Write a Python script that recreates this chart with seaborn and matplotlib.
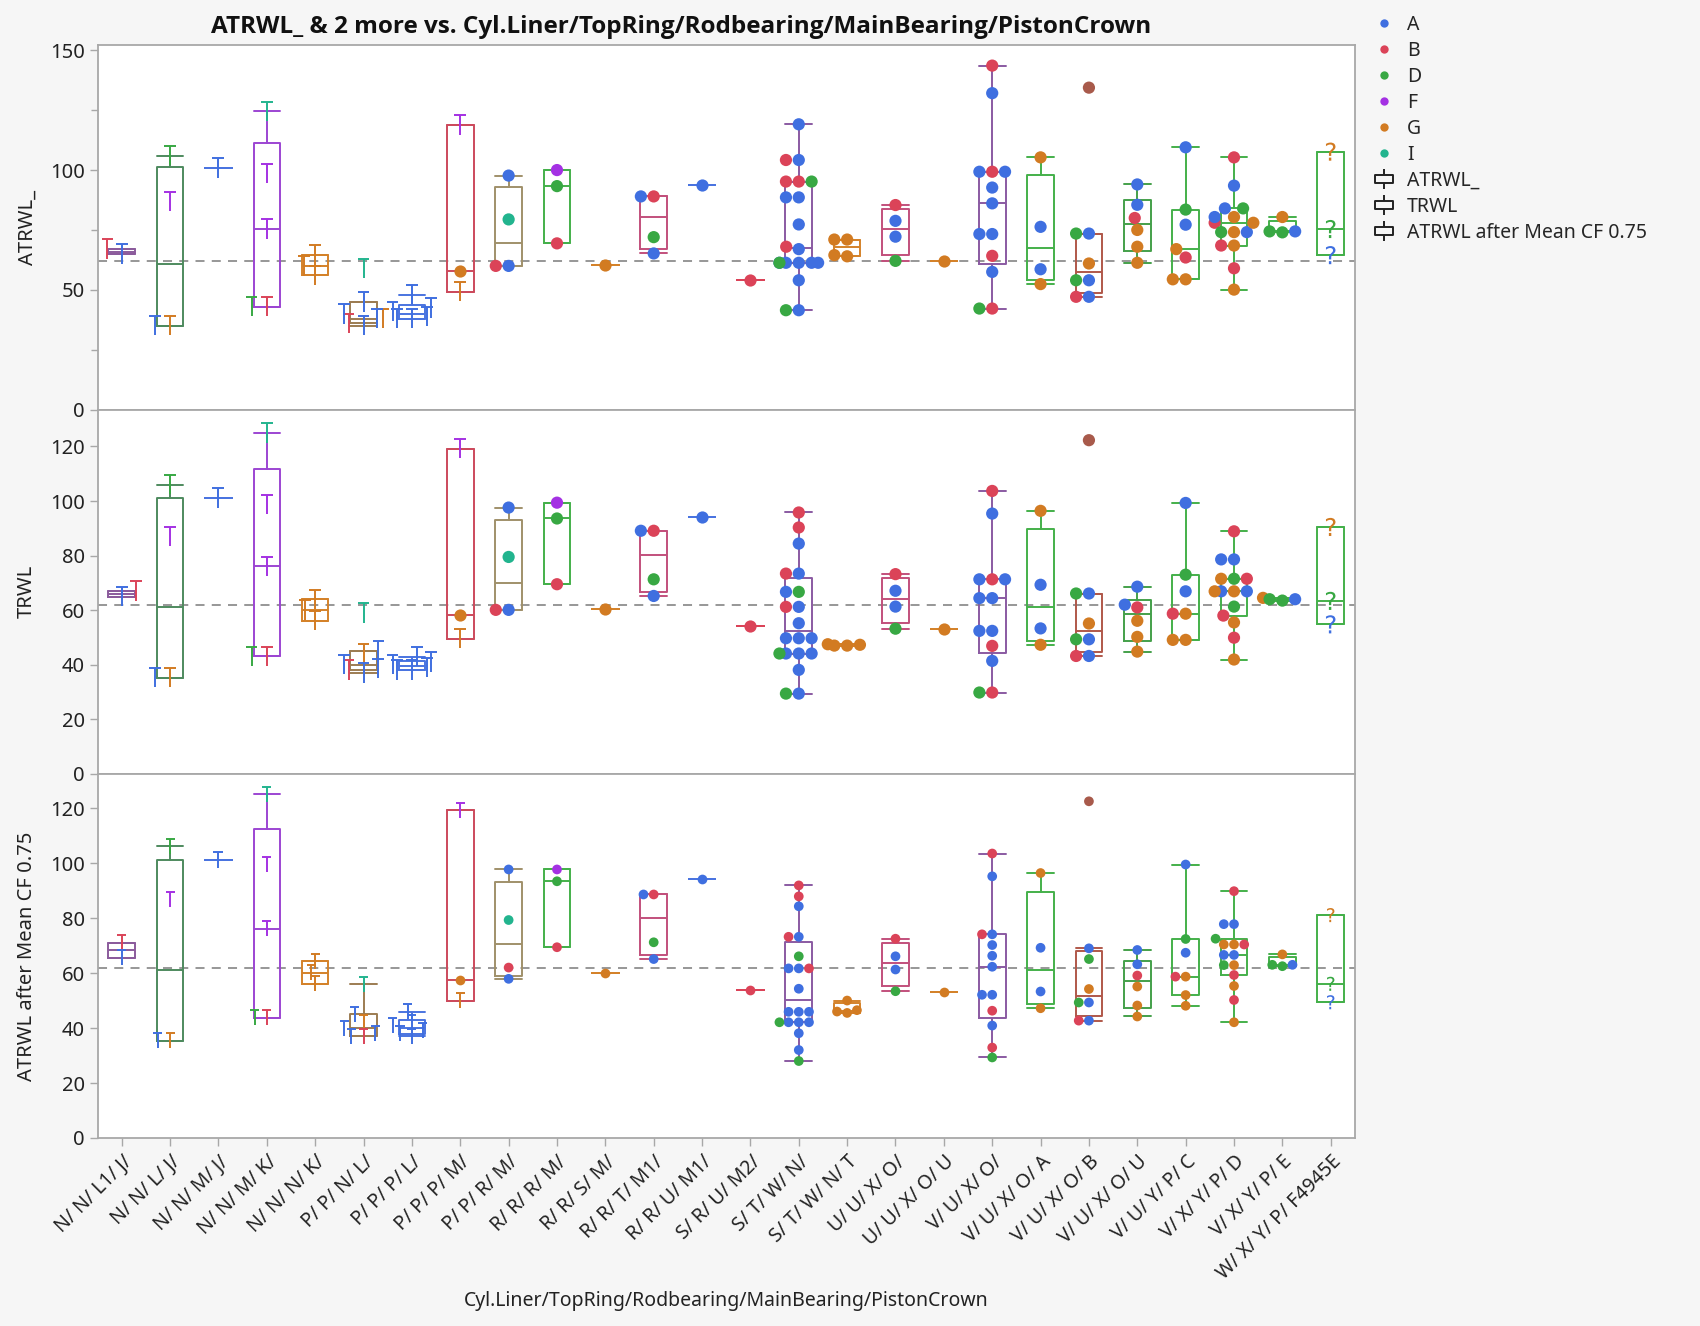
import numpy as np
import pandas as pd
import matplotlib
matplotlib.use("Agg")
import matplotlib.pyplot as plt
from matplotlib.path import Path
from matplotlib.lines import Line2D
from matplotlib.markers import MarkerStyle
from matplotlib.transforms import Affine2D
import seaborn as sns

# ---------------------------------------------------------------------------
# Data
# ---------------------------------------------------------------------------
categories = [
    "N/ N/ L1/ J/", "N/ N/ L/ J/", "N/ N/ M/ J/", "N/ N/ M/ K/", "N/ N/ N/ K/",
    "P/ P/ N/ L/", "P/ P/ P/ L/", "P/ P/ P/ M/", "P/ P/ R/ M/", "R/ R/ R/ M/",
    "R/ R/ S/ M/", "R/ R/ T/ M1/", "R/ R/ U/ M1/", "S/ R/ U/ M2/", "S/ T/ W/ N/",
    "S/ T/ W/ N/ T", "U/ U/ X/ O/", "U/ U/ X/ O/ U", "V/ U/ X/ O/", "V/ U/ X/ O/ A",
    "V/ U/ X/ O/ B", "V/ U/ X/ O/ U", "V/ U/ Y/ P/ C", "V/ X/ Y/ P/ D", "V/ X/ Y/ P/ E",
    "W/ X/ Y/ P/ F4945E",
]

legend_groups = ["A", "B", "D", "F", "G", "I"]
group_order = ["A", "B", "D", "F", "G", "I", "H"]
group_colors = {
    "A": "#3f6fe0", "B": "#db4358", "D": "#38a843", "F": "#a431e3",
    "G": "#d27b22", "I": "#22b48e", "H": "#a85a4b",
}

# outline colour of each category's box
box_colors = [
    "#8b5b9c", "#4e8a5e", "#4a74e0", "#9c45d2", "#d4822a",
    "#9c7c52", "#4a74e0", "#cc4a5c", "#a0906a", "#44b04a",
    "#d4822a", "#c2507c", "#4a74e0", "#db4358", "#8a5aa2",
    "#d4822a", "#c2507c", "#d4822a", "#8a5aa2", "#44b04a",
    "#b0584a", "#44a04a", "#44b04a", "#44b04a", "#44b04a",
    "#44b04a",
]

# one entry per observation (category index, group, point marker, three measures)
obs_cat = [
    0, 0,
    1, 1, 1, 1,
    2,
    3, 3, 3, 3, 3,
    4, 4, 4,
    5, 5, 5, 5, 5, 5, 5,
    6, 6, 6, 6, 6, 6,
    7, 7, 7,
    8, 8, 8, 8,
    9, 9, 9,
    10,
    11, 11, 11, 11,
    12,
    13,
    14, 14, 14, 14, 14, 14, 14, 14, 14, 14, 14, 14, 14, 14, 14, 14, 14, 14, 14, 14,
    15, 15, 15, 15,
    16, 16, 16, 16,
    17,
    18, 18, 18, 18, 18, 18, 18, 18, 18, 18, 18, 18, 18,
    19, 19, 19, 19,
    20, 20, 20, 20, 20, 20, 20, 20,
    21, 21, 21, 21, 21, 21,
    22, 22, 22, 22, 22, 22, 22,
    23, 23, 23, 23, 23, 23, 23, 23, 23, 23, 23, 23, 23, 23, 23,
    24, 24, 24, 24,
    25, 25, 25,
]
obs_group = [
    "B", "A",
    "G", "A", "F", "D",
    "A",
    "I", "F", "F", "B", "D",
    "G", "G", "G",
    "G", "A", "A", "B", "I", "A", "A",
    "A", "A", "A", "A", "A", "A",
    "F", "G", "G",
    "A", "I", "B", "A",
    "F", "D", "B",
    "G",
    "A", "B", "D", "A",
    "A",
    "B",
    "A", "A", "A", "A", "A", "A", "A", "A", "A", "A", "A", "A", "A",
    "B", "B", "B", "B", "D", "D", "D",
    "G", "G", "G", "G",
    "B", "A", "A", "D",
    "G",
    "B", "B", "B", "B", "A", "A", "A", "A", "A", "A", "A", "A", "D",
    "G", "A", "A", "G",
    "H", "A", "D", "G", "A", "D", "A", "B",
    "A", "A", "B", "G", "G", "G",
    "A", "D", "A", "G", "B", "G", "G",
    "B", "B", "B", "B", "A", "A", "A", "A", "D", "D", "G", "G", "G", "G", "G",
    "G", "D", "D", "A",
    "G", "D", "A",
]
obs_marker = (
    ["T"] * 29 + ["o", "T"]
    + ["o"] * (len(obs_cat) - 31 - 3)
    + ["?"] * 3
)

atrwl = [
    67.0, 65.0,
    35.0, 35.2, 86.8, 106.0,
    101.0,
    124.5, 98.5, 75.4, 43.0, 43.0,
    64.5, 60.0, 56.0,
    38.0, 45.0, 38.0, 36.0, 59.0, 40.0, 35.0,
    48.0, 42.5, 41.0, 39.0, 38.0, 38.0,
    118.8, 58.0, 49.3,
    97.7, 79.4, 60.0, 60.0,
    100.0, 93.3, 69.4,
    60.3,
    89.0, 89.0, 72.0, 65.2,
    93.9,
    54.0,
    119.1, 104.2, 88.6, 88.6, 77.3, 67.0, 61.3, 61.3, 61.3, 61.3, 61.3, 54.0, 41.5,
    104.2, 95.2, 95.2, 68.0, 95.2, 61.3, 41.5,
    71.0, 71.0, 64.5, 64.0,
    85.4, 78.8, 72.2, 62.1,
    62.0,
    143.6, 99.3, 64.2, 42.2, 132.1, 99.3, 99.3, 92.7, 86.1, 73.3, 73.3, 57.5, 42.2,
    105.3, 76.3, 58.6, 52.4,
    134.4, 73.5, 73.5, 61.0, 54.0, 54.0, 47.1, 47.1,
    94.0, 85.5, 80.0, 75.0, 68.0, 61.3,
    109.5, 83.5, 77.2, 67.0, 63.5, 54.4, 54.4,
    105.3, 78.0, 68.5, 59.0, 93.5, 84.0, 80.4, 74.1, 84.0, 74.1, 78.0, 80.4, 74.1, 68.5, 50.1,
    80.4, 74.4, 74.0, 74.4,
    107.7, 75.4, 64.5,
]
trwl = [
    67.0, 65.0,
    35.2, 35.2, 86.9, 106.0,
    101.0,
    125.0, 98.8, 76.1, 43.1, 43.1,
    64.0, 60.0, 56.1,
    44.0, 45.0, 38.5, 38.0, 59.0, 40.0, 37.0,
    43.0, 41.0, 40.0, 39.0, 38.0, 38.0,
    119.2, 58.1, 49.6,
    97.6, 79.5, 60.1, 60.1,
    99.4, 93.6, 69.5,
    60.3,
    89.1, 89.1, 71.3, 65.2,
    94.2,
    54.2,
    84.4, 73.4, 66.7, 61.2, 55.2, 49.7, 49.7, 49.7, 44.1, 44.1, 44.1, 38.1, 29.4,
    95.8, 90.3, 73.4, 61.2, 66.7, 44.1, 29.4,
    47.5, 47.3, 47.0, 47.0,
    73.2, 67.1, 61.3, 53.2,
    53.2,
    103.7, 71.3, 46.9, 29.8, 95.4, 71.3, 71.3, 64.4, 64.4, 52.4, 52.4, 41.4, 29.8,
    96.4, 69.3, 53.3, 47.3,
    122.3, 66.1, 66.1, 55.1, 49.3, 49.3, 43.2, 43.2,
    68.6, 62.0, 61.0, 56.1, 50.2, 44.8,
    99.3, 73.0, 66.9, 58.7, 58.7, 49.1, 49.1,
    88.9, 71.5, 58.0, 49.9, 78.6, 78.6, 66.9, 66.9, 71.5, 61.3, 71.5, 66.9, 66.9, 55.5, 41.9,
    64.5, 64.0, 63.5, 64.0,
    90.5, 63.4, 54.8,
]
atrwl_cf = [
    71.0, 65.5,
    35.4, 35.4, 86.7, 106.1,
    101.3,
    125.0, 99.5, 76.1, 43.8, 43.8,
    64.3, 60.2, 56.2,
    42.0, 45.0, 37.0, 37.0, 56.0, 40.0, 38.0,
    46.0, 42.0, 41.0, 39.0, 38.0, 37.0,
    119.3, 57.3, 49.9,
    97.7, 79.3, 62.0, 57.9,
    97.7, 93.4, 69.4,
    60.2,
    88.6, 88.6, 71.2, 65.1,
    94.4,
    53.9,
    84.3, 73.2, 61.7, 61.7, 54.3, 45.9, 45.9, 45.9, 42.1, 42.1, 42.1, 38.1, 32.0,
    91.9, 87.9, 73.2, 61.7, 66.1, 42.1, 28.0,
    50.0, 46.5, 46.0, 45.5,
    72.5, 66.1, 61.3, 53.4,
    53.2,
    103.5, 74.1, 46.3, 32.9, 95.2, 74.1, 70.2, 66.3, 62.3, 52.1, 52.1, 40.9, 29.3,
    96.4, 69.2, 53.3, 47.2,
    122.5, 69.0, 65.1, 54.2, 49.3, 49.3, 42.7, 42.7,
    68.4, 63.2, 59.1, 55.1, 48.2, 44.2,
    99.5, 72.4, 67.4, 58.7, 58.7, 52.0, 48.1,
    89.8, 70.4, 59.3, 50.2, 77.8, 77.8, 66.6, 66.6, 72.5, 62.9, 70.4, 70.4, 62.9, 55.3, 42.1,
    66.8, 63.0, 62.5, 63.0,
    81.1, 56.1, 49.4,
]

measures = ["ATRWL_", "TRWL", "ATRWL after Mean CF 0.75"]
grand_means = [62.0, 61.9, 61.7]

# ---------------------------------------------------------------------------
# Styling per panel
# ---------------------------------------------------------------------------
y_tops = [152.0, 133.5, 132.5]
y_major = [50, 20, 20]
y_minor = [25, 20, 20]
dot_sizes = [8.8, 8.8, 7.0]
glyph_sizes = [9.0, 9.0, 7.0]   # footprint used for swarming; glyphs drawn larger

title = "ATRWL_ & 2 more vs. Cyl.Liner/TopRing/Rodbearing/MainBearing/PistonCrown"
x_title = "Cyl.Liner/TopRing/Rodbearing/MainBearing/PistonCrown"

BG = "#f6f6f6"
FRAME = "#a8a8a8"
TXT = "#222222"

# "T" shaped glyph used for a subset of rows
T_PATH = Path([(-0.3, 0.5), (0.3, 0.5), (0.0, 0.5), (0.0, -0.5)],
              [Path.MOVETO, Path.LINETO, Path.MOVETO, Path.LINETO])
T_STYLE = MarkerStyle(T_PATH, transform=Affine2D().scale(1.55))
Q_STYLE = MarkerStyle("$?$", transform=Affine2D().scale(1.45))

# box-plot symbol used in the legend
BOX_ICON = Path(
    [(-0.5, -0.22), (0.5, -0.22), (0.5, 0.22), (-0.5, 0.22), (-0.5, -0.22),
     (0.0, 0.22), (0.0, 0.55), (0.0, -0.22), (0.0, -0.55)],
    [Path.MOVETO, Path.LINETO, Path.LINETO, Path.LINETO, Path.CLOSEPOLY,
     Path.MOVETO, Path.LINETO, Path.MOVETO, Path.LINETO],
)

sns.set_theme(style="white")
plt.rcParams["font.family"] = ["Noto Sans", "DejaVu Sans"]

df = pd.DataFrame({
    "cat_idx": obs_cat,
    "cat": [categories[i] for i in obs_cat],
    "group": obs_group,
    "marker": obs_marker,
    measures[0]: atrwl,
    measures[1]: trwl,
    measures[2]: atrwl_cf,
})

fig, axes = plt.subplots(3, 1, sharex=True, figsize=(17, 13.26), dpi=100)
fig.patch.set_facecolor(BG)
fig.subplots_adjust(left=0.0574, right=0.797, top=0.9657, bottom=0.1418, hspace=0)

marker_styles = {"o": "o", "T": T_STYLE, "?": Q_STYLE}

for k, (ax, col) in enumerate(zip(axes, measures)):
    ax.set_facecolor("white")

    # reference line at the grand mean
    ax.axhline(grand_means[k], color="#8f8f8f", lw=1.3, ls=(0, (5, 4)), zorder=1)

    # points, swarmed within each category
    for mk, mstyle in marker_styles.items():
        sub = df[df["marker"] == mk]
        if sub.empty:
            continue
        size = dot_sizes[k] if mk == "o" else glyph_sizes[k]
        n0 = len(ax.collections)
        sns.swarmplot(
            data=sub, x="cat", y=col, hue="group", order=categories,
            hue_order=group_order, palette=group_colors, marker=mstyle,
            size=size, linewidth=0, legend=False, ax=ax, zorder=3,
            warn_thresh=1.0,
        )
        if mk == "T":
            for coll in ax.collections[n0:]:
                coll.set_edgecolor("face")
                coll.set_linewidth(1.4)

    # outlier box plots (quantiles on the (n+1)p convention)
    for i, c in enumerate(box_colors):
        vals = df.loc[df["cat_idx"] == i, col].dropna().to_numpy()
        if vals.size == 0:
            continue
        q1, med, q3 = np.percentile(vals, [25, 50, 75], method="weibull")
        iqr = q3 - q1
        lo = vals[vals >= q1 - 1.5 * iqr].min()
        hi = vals[vals <= q3 + 1.5 * iqr].max()
        stats = [dict(med=med, q1=q1, q3=q3, whislo=lo, whishi=hi, fliers=[])]
        lp = dict(color=c, lw=1.4)
        ax.bxp(stats, positions=[i], widths=0.55, capwidths=0.55,
               showfliers=False, manage_ticks=False, boxprops=lp,
               whiskerprops=lp, capprops=lp, medianprops=lp, zorder=2)

    ax.set_xlim(-0.5, len(categories) - 0.5)
    ax.set_ylim(0, y_tops[k])
    ax.yaxis.set_major_locator(matplotlib.ticker.MultipleLocator(y_major[k]))
    ax.yaxis.set_minor_locator(matplotlib.ticker.MultipleLocator(y_minor[k]))
    ax.tick_params(axis="y", which="major", direction="out", length=6, width=1,
                   color=FRAME, labelsize=14.5, labelcolor=TXT, pad=3, left=True)
    ax.tick_params(axis="y", which="minor", direction="out", length=5, width=1,
                   color=FRAME, left=True)
    ax.set_ylabel(col, fontsize=14.5, color=TXT)
    ax.yaxis.set_label_coords(-0.048, 0.5)
    ax.set_xlabel("")
    for sp in ax.spines.values():
        sp.set_color(FRAME)
        sp.set_linewidth(1.3)
    ax.grid(False)

for ax in axes[:2]:
    ax.tick_params(axis="x", bottom=False, labelbottom=False)

bottom = axes[2]
bottom.set_xticks(range(len(categories)))
bottom.set_xticklabels(categories, rotation=45, ha="right", rotation_mode="anchor",
                       fontsize=14, color=TXT)
bottom.tick_params(axis="x", bottom=True, direction="out", length=6, width=1,
                   color=FRAME, pad=4)

fig.text(681 / 1700, 1 - 27 / 1326, title, ha="center", va="center",
         fontsize=17.5, fontweight="bold", color="#111111",
         family=["Open Sans", "DejaVu Sans"])
fig.text(726 / 1700, 1 - 1301 / 1326, x_title, ha="center", va="center",
         fontsize=14, color=TXT)

handles = [Line2D([], [], ls="none", marker="o", ms=6, mfc=group_colors[g], mec="none")
           for g in legend_groups]
handles += [Line2D([], [], ls="none", marker=BOX_ICON, ms=14, mfc="none",
                   mec="#222222", mew=1.4) for _ in measures]
labels = legend_groups + measures
fig.legend(handles, labels, loc="upper left", bbox_to_anchor=(1372 / 1700, 1 - 15 / 1326),
           frameon=False, fontsize=14, handlelength=1.2, handletextpad=0.6,
           labelspacing=0.31, borderaxespad=0, borderpad=0)

fig.savefig("out.png", dpi=100, facecolor=BG)
